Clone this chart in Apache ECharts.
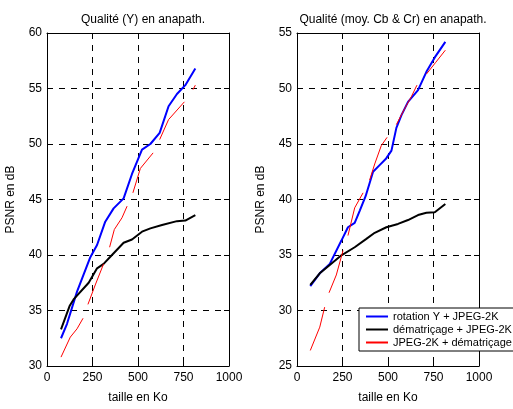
<!DOCTYPE html>
<html><head><meta charset="utf-8">
<script src="https://cdn.jsdelivr.net/npm/echarts@6/dist/echarts.min.js"></script>
<style>html,body{margin:0;padding:0;background:#fff}#c{width:513px;height:409px}</style>
</head><body><div id="c"></div>
<script>
// Tick labels
const xTicks = [0, 250, 500, 750, 1000];
const yTicksLeft = [30, 35, 40, 45, 50, 55, 60];
const yTicksRight = [25, 30, 35, 40, 45, 50, 55];

const titles = ["Qualité (Y) en anapath.", "Qualité (moy. Cb & Cr) en anapath."];
const seriesNames = ["rotation Y + JPEG-2K", "dématriçage + JPEG-2K", "JPEG-2K + dématriçage"];

// Left plot (Y)
const leftBlue = [[77,32.5],[110,33.8],[165,36.7],[238,39.8],[275,40.9],[320,43.0],[366,44.2],[421,45.1],[467,47.3],[522,49.5],[568,50.0],[619,51.0],[668,53.4],[714,54.5],[760,55.3],[815,56.8]];
const leftBlack = [[77,33.3],[124,35.4],[146,36.0],[229,37.5],[275,38.8],[311,39.2],[357,40.0],[421,41.1],[467,41.4],[522,42.1],[568,42.4],[632,42.7],[714,43.05],[760,43.1],[815,43.6]];
const leftRedSeg1 = [[77,30.8],[128,32.6],[165,33.35],[198,34.3]];
const leftRedSeg2 = [[225,35.55],[265,37.3],[311,39.2]];
const leftRedSeg3 = [[344,40.7],[370,42.3],[412,43.35],[440,44.4]];
const leftRedSeg4 = [[472,45.6],[513,47.8],[583,49.2]];
const leftRedSeg5 = [[619,50.4],[668,52.2],[755,53.8]];
const leftRedSeg6 = [[802,54.9],[815,55.3]];

// Right plot (Cb & Cr)
const rightBlue = [[73,32.2],[125,33.35],[180,34.2],[244,36.3],[280,37.5],[317,37.9],[345,39.0],[377,40.3],[418,42.5],[454,43.1],[490,43.7],[519,44.4],[546,46.45],[574,47.6],[610,48.8],[665,49.85],[711,51.5],[757,52.8],[815,54.2]];
const rightBlack = [[73,32.3],[125,33.35],[180,34.1],[244,34.97],[317,35.7],[381,36.45],[427,37.0],[491,37.5],[555,37.8],[610,38.15],[665,38.6],[711,38.8],[757,38.85],[815,39.6]];
const rightRedSeg1 = [[73,26.4],[125,28.5],[152,30.3]];
const rightRedSeg2 = [[176,31.6],[216,33.2],[253,35.4]];
const rightRedSeg3 = [[280,36.75],[317,39.25],[363,40.6]];
const rightRedSeg4 = [[399,41.75],[427,43.2],[463,44.85],[495,45.6]];
const rightRedSeg5 = [[546,46.75],[592,48.2],[628,49.25],[659,50.3]];
const rightRedSeg6 = [[711,51.3],[762,52.35],[815,53.45]];

const leftRed = [leftRedSeg1,leftRedSeg2,leftRedSeg3,leftRedSeg4,leftRedSeg5,leftRedSeg6];
const rightRed = [rightRedSeg1,rightRedSeg2,rightRedSeg3,rightRedSeg4,rightRedSeg5,rightRedSeg6];

const FONT = "Liberation Sans, Arial, sans-serif";
const grids = [
  {left:47, top:33, width:182, height:340},
  {left:297, top:33, width:182, height:340}
];
const yTicksAll = [yTicksLeft, yTicksRight];

const xAxes = [], yAxes = [];
grids.forEach((g, i) => {
  const base = {
    type:'value', gridIndex:i, min:xTicks[0], max:xTicks[xTicks.length-1], interval:xTicks[1]-xTicks[0],
    axisLine:{show:true, onZero:false, lineStyle:{color:'#000', width:1}},
    axisTick:{show:true, inside:true, length:5, lineStyle:{color:'#000'}},
  };
  xAxes.push(Object.assign({}, base, {
    position:'bottom',
    name:'taille en Ko', nameLocation:'middle', nameGap:26,
    nameTextStyle:{color:'#000', fontSize:12, fontFamily:FONT},
    axisLabel:{color:'#000', fontSize:12, fontFamily:FONT, margin:6, formatter: v => String(v)},
    splitLine:{show:true, lineStyle:{color:'#000', type:[6,6], width:1}}
  }));
  xAxes.push(Object.assign({}, base, {
    position:'top', axisLabel:{show:false}, splitLine:{show:false}
  }));
  const yt = yTicksAll[i];
  const ybase = {
    type:'value', gridIndex:i, min:yt[0], max:yt[yt.length-1], interval:yt[1]-yt[0],
    axisLine:{show:true, onZero:false, lineStyle:{color:'#000', width:1}},
    axisTick:{show:true, inside:true, length:5, lineStyle:{color:'#000'}},
  };
  yAxes.push(Object.assign({}, ybase, {
    position:'left',
    name:'PSNR en dB', nameLocation:'middle', nameGap:30, nameRotate:90,
    nameTextStyle:{color:'#000', fontSize:12, fontFamily:FONT},
    axisLabel:{color:'#000', fontSize:12, fontFamily:FONT, margin:5, formatter: v => String(v)},
    splitLine:{show:true, lineStyle:{color:'#000', type:[6,6], width:1}}
  }));
  yAxes.push(Object.assign({}, ybase, {
    position:'right', axisLabel:{show:false}, splitLine:{show:false}
  }));
});

function lineSeries(name, data, gi, color, width) {
  return {
    type:'line', name:name, data:data, xAxisIndex:gi*2, yAxisIndex:gi*2,
    showSymbol:false, symbol:'none', animation:false, silent:true,
    lineStyle:{color:color, width:width}, itemStyle:{color:color}, z:3
  };
}

const series = [];
[[leftBlue,leftBlack,leftRed],[rightBlue,rightBlack,rightRed]].forEach((set, gi) => {
  series.push(lineSeries(seriesNames[0], set[0], gi, '#0000ff', 2));
  series.push(lineSeries(seriesNames[1], set[1], gi, '#000000', 2));
  set[2].forEach(seg => series.push(lineSeries(seriesNames[2], seg, gi, '#ff0000', 1)));
});

const chart = echarts.init(document.getElementById('c'), null, {renderer:'canvas'});
chart.setOption({
  backgroundColor:'#fff',
  animation:false,
  title: titles.map((t, i) => ({
    text:t, left: grids[i].left + grids[i].width/2, top:9, textAlign:'center',
    textStyle:{color:'#000', fontSize:12, fontWeight:'normal', fontFamily:FONT}
  })),
  legend:{
    data:seriesNames.map(n => ({name:n, itemStyle:{opacity:0}})),
    orient:'vertical', left:359, top:308,
    itemWidth:22, itemHeight:12, itemGap:2,
    padding:[3,6,3,6],
    backgroundColor:'#fff', borderColor:'#000', borderWidth:1, borderRadius:0,
    textStyle:{color:'#000', fontSize:11, fontFamily:FONT},
    selectedMode:false
  },
  grid: grids,
  xAxis: xAxes,
  yAxis: yAxes,
  series: series
});
</script></body></html>
